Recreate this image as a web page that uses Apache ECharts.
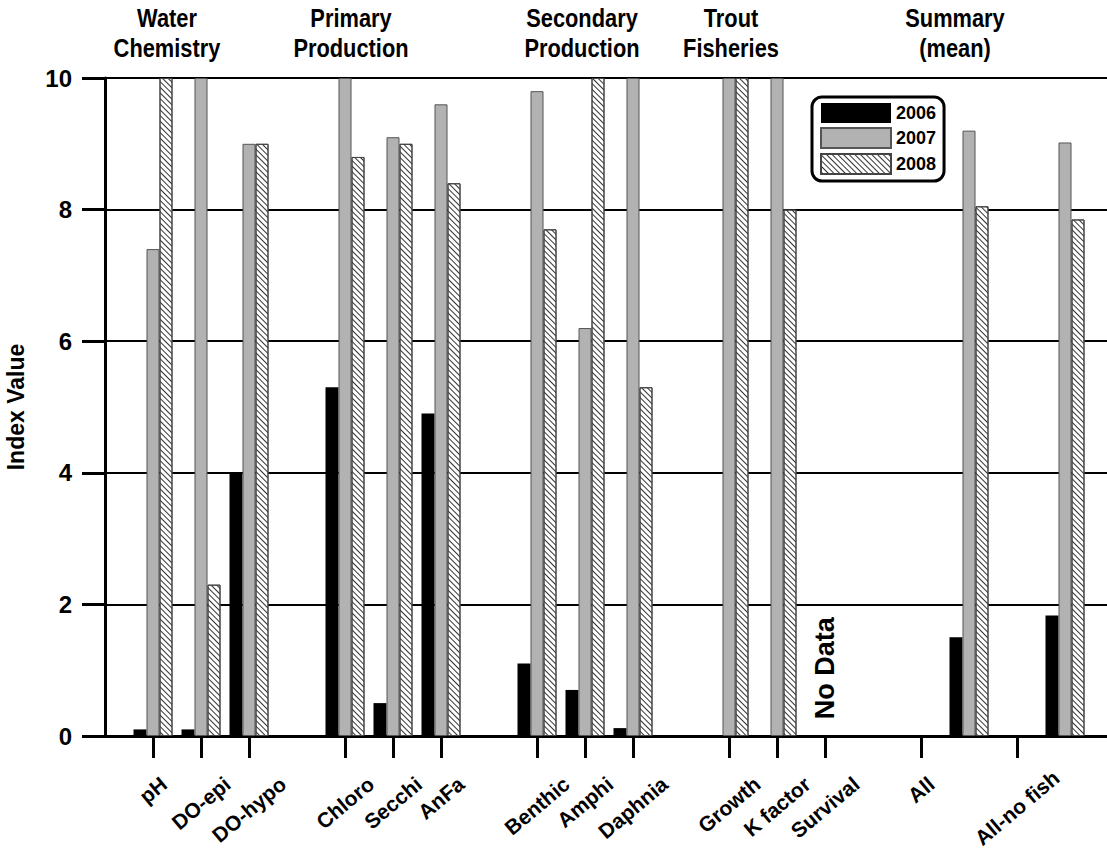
<!DOCTYPE html>
<html><head><meta charset="utf-8">
<script src="https://cdn.jsdelivr.net/npm/echarts@6/dist/echarts.min.js"></script>
<style>html,body{margin:0;padding:0;background:#fff}#c{width:1107px;height:853px}</style>
</head><body><div id="c"></div>
<script>
// ---- data ----
// tick / label slots along the x axis ('' = empty slot)
const tickLabels = ['', 'pH', 'DO-epi', 'DO-hypo', '', 'Chloro', 'Secchi', 'AnFa', '', 'Benthic', 'Amphi', 'Daphnia', '', 'Growth', 'K factor', 'Survival', '', 'All', '', 'All-no fish', '', ''];
// slots where the bar groups are drawn (the summary groups sit one slot right of their ticks in the original)
const barSlots = ['', 'pH', 'DO-epi', 'DO-hypo', '', 'Chloro', 'Secchi', 'AnFa', '', 'Benthic', 'Amphi', 'Daphnia', '', 'Growth', 'K factor', 'Survival', '', '', 'All', '', 'All-no fish', ''];
const v2006 = [null, 0.1, 0.1, 4.0, null, 5.3, 0.5, 4.9, null, 1.1, 0.7, 0.12, null, null, null, null, null, null, 1.5, null, 1.83, null];
const v2007 = [null, 7.4, 10, 9.0, null, 10, 9.1, 9.6, null, 9.8, 6.2, 10, null, 10, 10, null, null, null, 9.2, null, 9.02, null];
const v2008 = [null, 10, 2.3, 9.0, null, 8.8, 9.0, 8.4, null, 7.7, 10, 5.3, null, 10, 8.0, null, null, null, 8.05, null, 7.85, null];
const seriesNames = ['2006', '2007', '2008'];
const groupTitles = ['Water\nChemistry', 'Primary\nProduction', 'Secondary\nProduction', 'Trout\nFisheries', 'Summary\n(mean)'];
const noDataText = 'No Data';
const noDataCategory = 'Survival';
const yAxisTitle = 'Index Value';

// ---- layout / style ----
const FF = '"Liberation Sans", Arial, Helvetica, sans-serif';
const groupTitleX = [167, 351, 582, 731, 955];
const LABEL_FS = 21, LABEL_ROT = 40 * Math.PI / 180;

const chart = echarts.init(document.getElementById('c'), null, {renderer: 'svg'});
const values = [v2006, v2007, v2008];
const styles = [
  {color: '#000', borderColor: '#000', borderWidth: 0},
  {color: '#b2b2b2', borderColor: '#555', borderWidth: 1},
  {color: '#fff', borderColor: '#444', borderWidth: 1,
   decal: {symbol: 'rect', symbolSize: 1, color: '#333', backgroundColor: '#fff', dashArrayX: [1, 0], dashArrayY: [1, 2.6], rotation: Math.PI / 4}}
];

chart.setOption({
  animation: false,
  backgroundColor: '#fff',
  grid: {left: 105, top: 78, bottom: 117, right: -6, outerBoundsMode: 'none', containLabel: false},
  legend: {
    orient: 'vertical', left: 812, top: 97, icon: 'rect',
    itemWidth: 70, itemHeight: 20, itemGap: 4, padding: [6, 8, 6, 8],
    borderColor: '#000', borderWidth: 3, borderRadius: 10,
    textStyle: {fontSize: 18, fontWeight: 'bold', color: '#000', fontFamily: FF},
    data: seriesNames
  },
  xAxis: [{
    type: 'category', data: tickLabels, boundaryGap: false,
    axisLine: {show: true, lineStyle: {color: '#000', width: 3}},
    axisTick: {show: true, length: 22, lineStyle: {color: '#000', width: 3},
               interval: (i, v) => v !== ''},
    axisLabel: {show: false},
    splitLine: {show: false}
  }, {
    type: 'category', data: barSlots, boundaryGap: false, show: false,
    axisLine: {show: false}, axisTick: {show: false}, axisLabel: {show: false}, splitLine: {show: false}
  }],
  yAxis: {
    type: 'value', min: 0, max: 10, interval: 2,
    axisLine: {show: true, lineStyle: {color: '#000', width: 3}},
    axisTick: {show: true, inside: false, length: 23, lineStyle: {color: '#000', width: 3}},
    axisLabel: {fontSize: 24, fontWeight: 'bold', color: '#000', margin: 33, fontFamily: FF},
    splitLine: {show: true, lineStyle: {color: '#000', width: 2}},
    name: yAxisTitle, nameLocation: 'middle', nameGap: 78,
    nameTextStyle: {fontSize: 23, fontWeight: 'bold', color: '#000', fontFamily: FF}
  },
  series: seriesNames.map((n, i) => ({
    name: n, type: 'bar', xAxisIndex: 1, data: values[i], barWidth: 13, barGap: '0%',
    itemStyle: styles[i]
  }))
});

// labels under the axis, centred on each tick, rotated
const ctx = document.createElement('canvas').getContext('2d');
const labelFont = 'bold ' + LABEL_FS + 'px ' + FF;
ctx.font = labelFont;
const baseY = chart.convertToPixel({yAxisIndex: 0}, 0);
const graphics = [];
tickLabels.forEach((c, i) => {
  if (!c) return;
  const x = chart.convertToPixel({xAxisIndex: 0}, i);
  const L = ctx.measureText(c).width;
  const H = L * Math.sin(LABEL_ROT) + 0.95 * LABEL_FS * Math.cos(LABEL_ROT);
  let top = baseY + 39;
  if (top + H > 850) top = 850 - H;
  const cy = top + H / 2 - 0.1 * LABEL_FS * Math.cos(LABEL_ROT);
  graphics.push({type: 'text', x: x, y: cy, rotation: LABEL_ROT, z: 10,
    style: {text: c, font: labelFont, fill: '#000', align: 'center', verticalAlign: 'middle'}});
});
groupTitles.forEach((t, i) => {
  graphics.push({type: 'text', x: groupTitleX[i], y: 3, scaleX: 0.84, z: 10,
    style: {text: t, font: 'bold 26px ' + FF, fill: '#000', align: 'center', verticalAlign: 'top', lineHeight: 30}});
});
const ndIdx = tickLabels.indexOf(noDataCategory);
graphics.push({type: 'text', x: chart.convertToPixel({xAxisIndex: 0}, ndIdx),
  y: chart.convertToPixel({yAxisIndex: 0}, 1.03), rotation: Math.PI / 2, z: 10,
  style: {text: noDataText, font: 'bold 27px ' + FF, fill: '#000', align: 'center', verticalAlign: 'middle'}});
chart.setOption({graphic: graphics});
</script></body></html>
